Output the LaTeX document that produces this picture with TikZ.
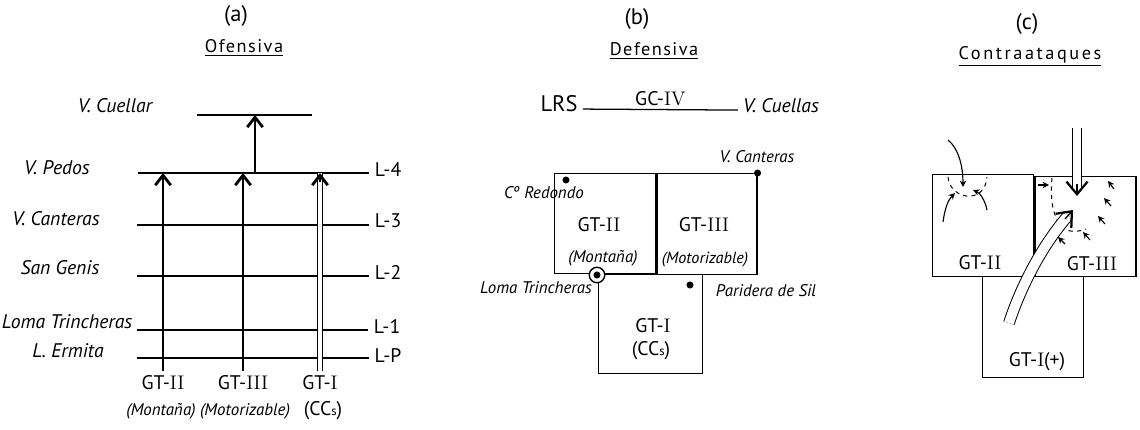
\documentclass[tikz,border=0pt]{standalone}
\usepackage{fontspec}
\setsansfont{PT Sans}
\usepackage{tikz}
\usetikzlibrary{arrows.meta, positioning, calc}

\begin{document}
\begin{tikzpicture}[x=0.025cm, y=-0.025cm, line width=0.9pt,
            every node/.style={font=\sffamily\fontsize{14}{16}\selectfont},
            place/.style={font=\sffamily\itshape\fontsize{14}{16}\selectfont},
            small/.style={font=\sffamily\itshape\fontsize{12}{14}\selectfont},
            caption/.style={font=\sffamily\fontsize{16}{18}\selectfont},
            title/.style={font=\sffamily\fontsize{13}{15}\selectfont\addfontfeatures{LetterSpace=8}},
            zone/.style={draw, rectangle, inner sep=0pt, line width=0.9pt},
            dot/.style={circle, fill, inner sep=0pt, minimum size=5pt},
            ring/.style={circle, draw, fill=white, inner sep=0pt, minimum size=11pt, line width=1pt},
            barb/.style={-{Straight Barb[length=7pt,width=11pt,line width=2pt]}},
            bigbarb/.style={-{Straight Barb[length=9pt,width=15pt,line width=1.6pt]}},
            twin/.style={double, double distance=2.8pt, line width=0.7pt},
            dart/.style={-{Stealth[length=4.5pt,width=4.5pt]}, line width=0.8pt}]
            \useasboundingbox (0,0) rectangle (1140,429);

            % (a) Ofensiva
            \node[caption] (capa) at (236,16) {(a)};
            \node[title] (tita) at (244,48) {\underline{Ofensiva}};
            \node[place] (cuellar) at (115,106) {V. Cuellar};
            \coordinate (cu1) at (197,115);
            \coordinate (cu2) at (312,115);
            \draw (cu1) -- (cu2);

            \node[place] (pedos) at (57,168) {V. Pedos};
            \node[place] (canteras) at (56,219) {V. Canteras};
            \node[place] (genis) at (60,268) {San Genis};
            \node[place] (loma) at (67,322) {Loma Trincheras};
            \node[place] (ermita) at (68,351) {L. Ermita};

            \node (l4) at (388,169) {L-4};
            \node (l3) at (388,221) {L-3};
            \node (l2) at (388,272) {L-2};
            \node (l1) at (387,326) {L-1};
            \node (lp) at (388,356) {L-P};
            \coordinate (a4) at (138,173);
            \coordinate (a3) at (137,225);
            \coordinate (a2) at (137,276);
            \coordinate (a1) at (137,330);
            \coordinate (ap) at (137,358);
            \draw (a4) -- (a4 -| l4.west);
            \draw (a3) -- (a3 -| l3.west);
            \draw (a2) -- (a2 -| l2.west);
            \draw (a1) -- (a1 -| l1.west);
            \draw (ap) -- (ap -| lp.west);

            \node (gt2a) at (163,383) {GT-{\rmfamily II}};
            \node (gt3a) at (243,383) {GT-{\rmfamily III}};
            \node (gt1a) at (320,383) {GT-{\rmfamily I}};
            \node[small] (mona) at (161,411) {(Montaña)};
            \node[small] (mota) at (245,411) {(Motorizable)};
            \node (ccsa) at (323,411) {(CC{\small s})};
            \draw[barb] (gt2a.north) -- (gt2a.north |- a4);
            \draw[barb] (gt3a.north) -- (gt3a.north |- a4);
            \draw[twin] (gt1a.north) -- (gt1a.north |- a4);
            \draw[barb] ($(gt1a.north |- a4)+(0,9)$) -- (gt1a.north |- a4);
            \coordinate (up) at (255,173);
            \draw[barb] (up) -- (up |- cu1);

            % (b) Defensiva
            \node[caption] (capb) at (637,19) {(b)};
            \node[title] (titb) at (654,51) {\underline{Defensiva}};
            \node[font=\sffamily\fontsize{16}{18}\selectfont] (lrs) at (559,104) {LRS};
            \node[place] (cuellas) at (781,106) {V. Cuellas};
            \draw ([yshift=2pt]lrs.base east) -- ([yshift=2pt]cuellas.base west)
                node[midway, above=-1pt] (gc4) {GC-{\rmfamily IV}};

            \node[zone, minimum width=2.525cm, minimum height=2.5cm, anchor=north west] (d2) at (554,173) {};
            \node[zone, minimum width=2.5cm, minimum height=2.525cm, anchor=north west] (d3) at (d2.north east) {};
            \node[zone, minimum width=2.6cm, minimum height=2.475cm, anchor=north west] (d1) at (598,274) {};
            \node (gt2b) at (599,225) {GT-{\rmfamily II}};
            \node[small] (monb) at (603,258) {(Montaña)};
            \node (gt3b) at (704,225) {GT-{\rmfamily III}};
            \node[small, font=\sffamily\itshape\fontsize{11.5}{13}\selectfont] (motb) at (705,260) {(Motorizable)};
            \node (gt1b) at (653,326) {GT-{\rmfamily I}};
            \node (ccsb) at (651,351) {(CC{\small s})};

            \node[dot] (redondo) at (566,180) {};
            \node[small] (redondol) at (544,193) {Cº Redondo};
            \node[dot] (canterb) at (d3.north east) {};
            \node[small] (canterbl) at (757,157) {V. Canteras};
            \node[ring] (lomab) at (597,275) {};
            \node[dot] at (lomab) {};
            \node[small] (lomabl) at (536,288) {Loma Trincheras};
            \node[dot] (paridera) at (690,285) {};
            \node[small] (parideral) at (766,291) {Paridera de Sil};

            % (c) Contraataques
            \node[caption] (capc) at (1027,24) {(c)};
            \node[title, font=\sffamily\fontsize{13}{15}\selectfont\addfontfeatures{LetterSpace=14}] (titc) at (1030,56) {\underline{Contraataques}};
            \node[zone, minimum width=2.525cm, minimum height=2.55cm, anchor=north west] (c2) at (932,174) {};
            \node[zone, minimum width=2.525cm, minimum height=2.5cm, anchor=south west] (c3) at (c2.south east) {};
            \node[zone, minimum width=2.525cm, minimum height=2.525cm, anchor=north west] (c1) at (982,276) {};
            \node (gt2c) at (980,263) {GT-{\rmfamily II}};
            \node (gt3c) at (1092,264) {GT-{\rmfamily III}};
            \node (gt1c) at (1037,362) {GT-{\rmfamily I}(+)};

            \draw[dart] (948,140) .. controls (958,148) and (963,165) .. (963,187);
            \draw[dart] (943,222) .. controls (945,208) and (948,200) .. (955,193);
            \draw[dart] (987,210) .. controls (985,200) and (980,193) .. (973,190);
            \draw[dashed, line width=0.7pt] (948,177) .. controls (950,200) and (985,205) .. (987,177);

            \draw[dart] (1038,185) -- (1049,185);
            \draw[dashed, line width=0.7pt] (1052,178) .. controls (1050,200) and (1053,215) .. (1060,225)
                .. controls (1066,232) and (1075,233) .. (1086,229);
            \draw[dart] (1114,189) -- (1108,181);
            \draw[dart] (1111,206) -- (1104,198);
            \draw[dart] (1105,224) -- (1098,216);
            \draw[dart] (1090,240) -- (1083,232);
            \draw[dart] (1065,244) -- (1058,237);

            \coordinate (drop) at (1077,128);
            \coordinate (droptip) at (1077,196);
            \draw[twin, double distance=6pt, shorten >=4pt] (drop) -- (droptip);
            \draw[bigbarb] ($(droptip)+(0,-12)$) -- (droptip);
            \coordinate (push) at (1009,323);
            \coordinate (pushtip) at (1073,210);
            \draw[twin, double distance=7pt, shorten >=5pt] (push) .. controls (1018,295) and (1038,250) .. (pushtip);
            \draw[bigbarb] ($(pushtip)+(-8,9)$) -- (pushtip);
        \end{tikzpicture}
\end{document}
